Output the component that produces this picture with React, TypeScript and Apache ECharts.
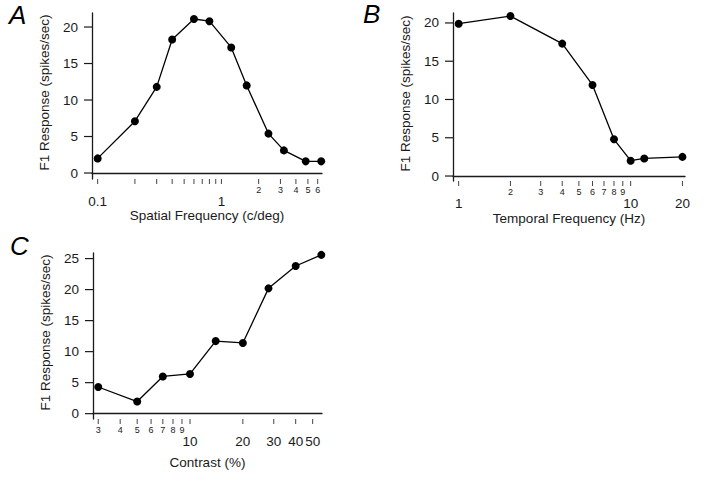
import React, { useEffect, useRef } from "react";
import * as echarts from "echarts";

// Panel A: spatial frequency tuning
const spatialFreq = [0.1, 0.2, 0.3, 0.4, 0.6, 0.8, 1.2, 1.6, 2.4, 3.2, 4.8, 6.4];
const spatialResp = [2.0, 7.1, 11.8, 18.3, 21.1, 20.8, 17.2, 12.0, 5.4, 3.1, 1.6, 1.6];
const spatialTicks = [0.1, 0.2, 0.3, 0.4, 0.5, 0.6, 0.7, 0.8, 0.9, 1, 2, 3, 4, 5, 6];
const spatialLabels = [0.1, 1, 2, 3, 4, 5, 6];
const spatialMajor = [0.1, 1];

// Panel B: temporal frequency tuning
const temporalFreq = [1, 2, 4, 6, 8, 10, 12, 20];
const temporalResp = [19.9, 20.9, 17.3, 11.9, 4.8, 2.0, 2.3, 2.5];
const temporalTicks = [1, 2, 3, 4, 5, 6, 7, 8, 9, 10, 20];
const temporalLabels = [1, 2, 3, 4, 5, 6, 7, 8, 9, 10, 20];
const temporalMajor = [1, 10, 20];

// Panel C: contrast response
const contrast = [3, 5, 7, 10, 14, 20, 28, 40, 56];
const contrastResp = [4.3, 1.95, 6.0, 6.4, 11.7, 11.4, 20.2, 23.8, 25.6];
const contrastTicks = [3, 4, 5, 6, 7, 8, 9, 10, 20, 30, 40, 50];
const contrastLabels = [3, 4, 5, 6, 7, 8, 9, 10, 20, 30, 40, 50];
const contrastMajor = [10, 20, 30, 40, 50];

const yTicksAB = [0, 5, 10, 15, 20];
const yTicksC = [0, 5, 10, 15, 20, 25];

const FONT = "Liberation Sans";
const INK = "#1a1a1a";

function xAxisFor(
  gridIndex: number,
  min: number,
  max: number,
  labels: number[],
  major: number[],
  name: string,
  nameGap: number
) {
  return {
    type: "log",
    logBase: 10,
    gridIndex,
    min,
    max,
    position: "bottom",
    name,
    nameLocation: "middle",
    nameGap,
    nameMoveOverlap: false,
    nameTextStyle: { fontFamily: FONT, fontSize: 13.5, color: INK },
    axisLine: { show: true, lineStyle: { color: INK, width: 1.3 } },
    axisTick: { show: false },
    splitLine: { show: false },
    minorTick: { show: false },
    axisLabel: {
      show: true,
      margin: 6,
      customValues: labels,
      hideOverlap: false,
      showMinLabel: true,
      showMaxLabel: true,
      formatter: (v: number) => {
        const r = Math.round(v * 1000) / 1000;
        return major.some((m) => Math.abs(m - r) < 1e-6) ? `{b|${r}}` : `{s|${r}}`;
      },
      rich: {
        b: { fontFamily: FONT, fontSize: 13.5, color: INK, padding: [9, 0, 0, 0] },
        s: { fontFamily: FONT, fontSize: 9, color: INK },
      },
    },
  };
}

function yAxisFor(gridIndex: number, min: number, max: number, ticks: number[]) {
  return {
    type: "value",
    gridIndex,
    min,
    max,
    name: "F1 Response (spikes/sec)",
    nameLocation: "middle",
    nameGap: 41,
    nameMoveOverlap: false,
    nameTextStyle: { fontFamily: FONT, fontSize: 13.5, color: INK, padding: [0, 0, 0, 7] },
    axisLine: { show: true, lineStyle: { color: INK, width: 1.3 } },
    axisTick: { show: false },
    splitLine: { show: false },
    axisLabel: {
      show: true,
      margin: 14,
      customValues: ticks,
      fontFamily: FONT,
      fontSize: 13.5,
      color: INK,
    },
  };
}

function lineSeries(idx: number, xs: number[], ys: number[]) {
  return {
    type: "line",
    xAxisIndex: idx,
    yAxisIndex: idx,
    data: xs.map((x, i) => [x, ys[i]]),
    symbol: "circle",
    symbolSize: 8,
    itemStyle: { color: "#000" },
    lineStyle: { color: "#000", width: 1.3 },
    clip: false,
    z: 3,
  };
}

// tick marks on the x axis, placed through the axis scale
function xTickSeries(idx: number, ticks: number[], yMin: number) {
  return {
    type: "custom",
    xAxisIndex: idx,
    yAxisIndex: idx,
    silent: true,
    clip: false,
    data: ticks.map((t) => [t, yMin]),
    renderItem: (_p: any, api: any) => {
      const pt = api.coord([api.value(0), api.value(1)]);
      return {
        type: "line",
        shape: { x1: pt[0], y1: pt[1], x2: pt[0], y2: pt[1] + 5 },
        style: { stroke: "#444", lineWidth: 1 },
      };
    },
  };
}

// tick marks on the y axis
function yTickSeries(idx: number, ticks: number[], xMin: number) {
  return {
    type: "custom",
    xAxisIndex: idx,
    yAxisIndex: idx,
    silent: true,
    clip: false,
    data: ticks.map((t) => [xMin, t]),
    renderItem: (_p: any, api: any) => {
      const pt = api.coord([api.value(0), api.value(1)]);
      return {
        type: "line",
        shape: { x1: pt[0], y1: pt[1], x2: pt[0] - 8, y2: pt[1] },
        style: { stroke: INK, lineWidth: 1.2 },
      };
    },
  };
}

const xMinA = 0.09, xMaxA = 6.5, yMinA = -0.82, yMaxA = 21.92;
const xMinB = 0.927, xMaxB = 20.7, yMinB = -0.65, yMaxB = 21.3;
const xMinC = 2.8, xMaxC = 56.5, yMinC = -0.86, yMaxC = 25.9;

export default function App() {
  const ref = useRef<HTMLDivElement>(null);
  useEffect(() => {
    if (!ref.current) return;
    const chart = echarts.init(ref.current, null, { renderer: "svg" });
    chart.setOption({
      animation: false,
      backgroundColor: "#fff",
      textStyle: { fontFamily: FONT },
      grid: [
        { left: 92, top: 13, width: 230, height: 166 },
        { left: 453, top: 13, width: 232, height: 168 },
        { left: 93, top: 253, width: 229, height: 166 },
      ],
      xAxis: [
        xAxisFor(0, xMinA, xMaxA, spatialLabels, spatialMajor, "Spatial Frequency (c/deg)", 29),
        xAxisFor(1, xMinB, xMaxB, temporalLabels, temporalMajor, "Temporal Frequency (Hz)", 30),
        xAxisFor(2, xMinC, xMaxC, contrastLabels, contrastMajor, "Contrast (%)", 36),
      ],
      yAxis: [
        yAxisFor(0, yMinA, yMaxA, yTicksAB),
        yAxisFor(1, yMinB, yMaxB, yTicksAB),
        yAxisFor(2, yMinC, yMaxC, yTicksC),
      ],
      series: [
        lineSeries(0, spatialFreq, spatialResp),
        lineSeries(1, temporalFreq, temporalResp),
        lineSeries(2, contrast, contrastResp),
        xTickSeries(0, spatialTicks, yMinA),
        xTickSeries(1, temporalTicks, yMinB),
        xTickSeries(2, contrastTicks, yMinC),
        yTickSeries(0, yTicksAB, xMinA),
        yTickSeries(1, yTicksAB, xMinB),
        yTickSeries(2, yTicksC, xMinC),
      ],
      graphic: [
        { type: "text", left: 9, top: 2, style: { text: "A", fontFamily: FONT, fontSize: 26, fontStyle: "italic", fill: "#000" } },
        { type: "text", left: 363, top: 1, style: { text: "B", fontFamily: FONT, fontSize: 26, fontStyle: "italic", fill: "#000" } },
        { type: "text", left: 10, top: 233, style: { text: "C", fontFamily: FONT, fontSize: 26, fontStyle: "italic", fill: "#000" } },
      ],
    });
    return () => chart.dispose();
  }, []);
  return (
    <div
      ref={ref}
      style={{ position: "absolute", left: 0, top: 0, width: 706, height: 484 }}
    />
  );
}
